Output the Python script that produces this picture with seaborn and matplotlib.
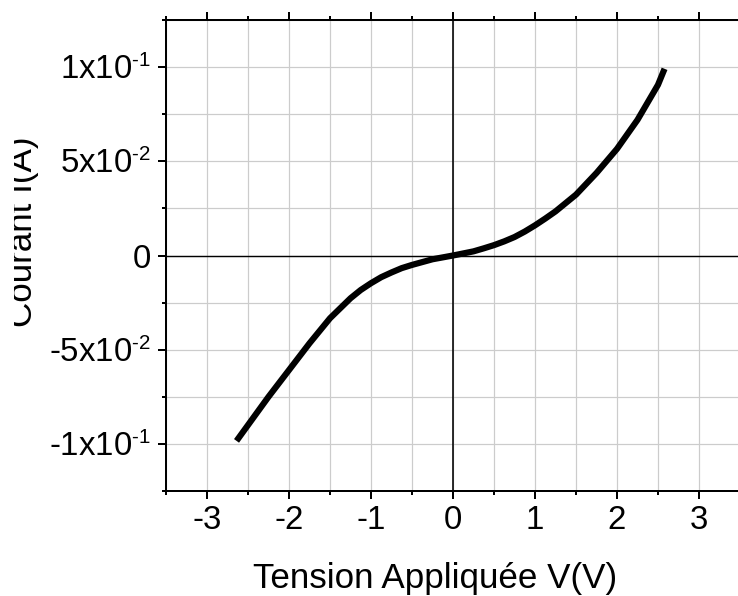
import matplotlib
matplotlib.use("Agg")
import matplotlib.pyplot as plt
from matplotlib.ticker import MultipleLocator, FixedLocator, FixedFormatter
from matplotlib.patches import Rectangle
import seaborn as sns
import pandas as pd

try:
    import matplotlib._mathtext as _mt
    _mt.SHRINK_FACTOR = 0.62
except Exception:
    pass

# Data
voltage = [-2.64, -2.5, -2.25, -2.0, -1.75, -1.5, -1.375, -1.25, -1.125, -1.0, -0.875,
           -0.75, -0.625, -0.5, -0.25, 0.0, 0.25, 0.375, 0.5, 0.625, 0.75, 0.875, 1.0,
           1.125, 1.25, 1.5, 1.75, 2.0, 2.25, 2.5, 2.58]
current = [-0.0984, -0.090, -0.075, -0.0608, -0.0466, -0.0333, -0.028, -0.0227, -0.0183,
           -0.0147, -0.0115, -0.009, -0.0067, -0.005, -0.002, 0.0, 0.0022, 0.0038, 0.0055,
           0.0075, 0.0098, 0.0127, 0.016, 0.0196, 0.0234, 0.0323, 0.0438, 0.0566, 0.072,
           0.0906, 0.0991]
x_ticks = [-3, -2, -1, 0, 1, 2, 3]
x_tick_labels = ["-3", "-2", "-1", "0", "1", "2", "3"]
y_ticks = [-0.1, -0.05, 0.0, 0.05, 0.1]
y_tick_labels = [r"-1x10$^{\text{-1}}$", r"-5x10$^{\text{-2}}$", "0",
                 r"5x10$^{\text{-2}}$", r"1x10$^{\text{-1}}$"]
x_title = "Tension Appliquée V(V)"
y_title = "Courant I(A)"

sns.set_style("white")
plt.rcParams["font.family"] = ["Liberation Sans", "DejaVu Sans"]
plt.rcParams["mathtext.fontset"] = "custom"
plt.rcParams["mathtext.rm"] = "Liberation Sans"
plt.rcParams["mathtext.it"] = "Liberation Sans"
plt.rcParams["axes.unicode_minus"] = False
plt.rcParams["text.color"] = "black"
plt.rcParams["axes.labelcolor"] = "black"
plt.rcParams["xtick.color"] = "black"
plt.rcParams["ytick.color"] = "black"

W, H = 738, 596
fig = plt.figure(figsize=(W / 72, H / 72), dpi=72)
left, right, top, bottom = 166, 740, 20, 491
ax = fig.add_axes([left / W, (H - bottom) / H, (right - left) / W, (bottom - top) / H])

df = pd.DataFrame({"V": voltage, "I": current})

ax.set_xlim(-3.5, 3.5)
ax.set_ylim(-0.125, 0.125)

# grid
ax.xaxis.set_minor_locator(MultipleLocator(0.5))
ax.yaxis.set_minor_locator(MultipleLocator(0.025))
ax.grid(True, which="both", color="#cccccc", lw=1.2, zorder=0)
ax.set_axisbelow(True)

ax.axhline(0, color="black", lw=1.4, zorder=1)
ax.axvline(0, color="black", lw=1.6, zorder=1)

sns.lineplot(data=df, x="V", y="I", ax=ax, color="black", lw=6.2, sort=False,
             zorder=3, solid_capstyle="butt", solid_joinstyle="round")

ax.xaxis.set_major_locator(FixedLocator(x_ticks))
ax.xaxis.set_major_formatter(FixedFormatter(x_tick_labels))
ax.yaxis.set_major_locator(FixedLocator(y_ticks))
ax.yaxis.set_major_formatter(FixedFormatter(y_tick_labels))

for s in ax.spines.values():
    s.set_visible(True)
    s.set_color("black")
    s.set_linewidth(2)

ax.tick_params(axis="both", which="major", direction="out", length=8, width=2,
               color="black", labelcolor="black", labelsize=33, top=True, right=True,
               left=True, bottom=True, labeltop=False, labelright=False)
ax.tick_params(axis="both", which="minor", direction="out", length=4, width=2,
               color="black", top=True, right=True, left=True, bottom=True)
ax.tick_params(axis="x", which="major", pad=6)
ax.tick_params(axis="y", which="major", pad=7)

ax.set_xlabel(x_title, fontsize=35, va="baseline", color="black")
ax.xaxis.set_label_coords((435 - left) / (right - left), (bottom - 588) / (bottom - top))
ax.set_ylabel(y_title, fontsize=35, va="baseline", color="black")
ax.yaxis.set_label_coords((32 - left) / (right - left), (bottom - 232) / (bottom - top))

# the reference image is cropped on its left edge
fig.patches.append(Rectangle((0, 0), 14 / W, 1, transform=fig.transFigure,
                             facecolor="white", edgecolor="none", zorder=10))

fig.savefig("out.png", dpi=72)
